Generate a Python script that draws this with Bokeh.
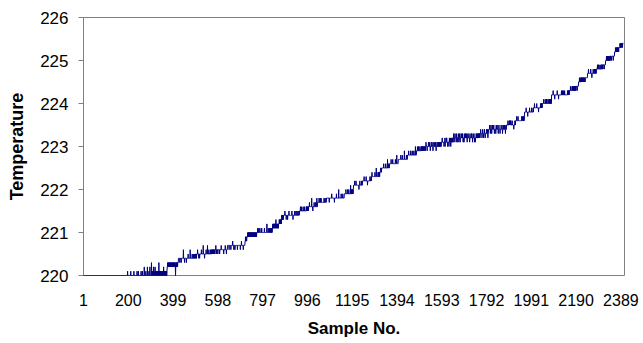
import numpy as np
from bokeh.plotting import figure
from bokeh.models import Range1d, FixedTicker, ColumnDataSource
from bokeh.embed import file_html
from bokeh.resources import INLINE

# Each segment = 40 consecutive samples. Level (tenths of a degree above 220.0)
# = segment base + digit in the pattern string.
seg_base = [0, 0, 0, 0, 0, 0, 0, 0, 0, 0,
            0, 3, 3, 4, 4, 5, 6, 6, 7, 9,
            9, 10, 12, 13, 14, 15, 16, 17, 17, 18,
            19, 21, 22, 24, 25, 26, 27, 28, 29, 29,
            30, 31, 31, 31, 32, 33, 33, 34, 35, 37,
            38, 39, 41, 41, 42, 44, 46, 47, 49, 51]

seg_pattern = [
    "0000000000 0000000000 0000000000 0000000000",
    "0000000000 0000000000 0000000000 0000000000",
    "0000000000 0000000000 0000000000 0000000000",
    "0000000000 0000000000 0000000000 0000000000",
    "0000000000 0000000000 0000000000 0000001000",
    "0000000000 1000000000 0000100000 0000000010",
    "0000100000 0000001000 0010000000 2000000100",
    "0000200000 0100020000 0030001000 0200100020",
    "0101100101 1010030101 0110101001 0101102011",
    "0110101001 0122323232 2332323322 3232232323",
    "3232332320 2323232323 3344444434 4444344444",
    "1111311110 1111111011 1111121111 1111311111",
    "1112111121 1121112122 1212222322 2212221222",
    "1111211111 1131111101 1111121111 1311111211",
    "1111211112 1212121212 2212122232 2212222122",
    "1111101111 1121111111 1110111111 2111101111",
    "1111111011 1111101111 1112111101 1110111111",
    "1111011111 1111111011 1121111111 0111111122",
    "2121212222 3232323232 2323232333 2323232333",
    "0101011010 1111211112 1111211111 1121111111",
    "1111211111 1111131111 1211111211 1212121212",
    "1212121212 2121232121 2212121222 3232323232",
    "1212121212 2222232222 2122222122 2223222222",
    "1111112111 1011111121 1111211112 1111211111",
    "1111211121 1111112111 1121111111 2121212121",
    "1111211111 1111311110 1111121111 1211111311",
    "1111111211 1121112111 1111111112 1111211111",
    "1111111111 1101111111 1112111111 1111101111",
    "1111211111 1111311111 1111121111 1121111112",
    "1111112111 1111211112 1111111311 1212121212",
    "2222232222 2322222222 2222122232 2222223222",
    "1111111211 1111112111 1101111111 1112111121",
    "1121111111 1111121111 1311111112 1212121222",
    "1111011111 1111211111 1112111111 1311112111",
    "1111111211 1111211111 1111112111 1131111112",
    "1111111111 2111111211 1111113111 1111121111",
    "1111121111 1111211111 1211111121 1111131111",
    "1111211112 1111121111 1212121212 2212122221",
    "1121111011 1112111211 1011121112 1110111211",
    "1211211011 1211121121 2121212121 2222322222",
    "1101112011 1121211101 1111012111 2101112111",
    "1101121011 1211110121 1011112101 1211011121",
    "1121121011 1011211121 1211101121 1112110111",
    "1121211110 1211121101 1011121211 1121212121",
    "1101121111 1011211101 1121101111 1211121011",
    "1111121101 1211011121 1112110111 1101211121",
    "1110112111 1011112111 1101211121 1211101211",
    "1111112111 1121211212 1111121111 1101111211",
    "1111121111 1211111111 1111111211 1211121212",
    "1111111211 1111011111 1121111111 1211111121",
    "1111211111 1111211111 1101111111 1212121212",
    "1111121111 1121111212 1111121111 2121212121",
    "1111111211 1111011111 1111121111 1011111111",
    "1111211112 1121111121 1111111111 1212121212",
    "1111211111 1211211212 1212121212 2222122222",
    "1111211211 1212121212 2122212221 2222222222",
    "1111211111 1111211110 1111121111 1211121212",
    "1111211212 1111121111 2121212212 2222122222",
    "1111211212 1212121212 2122221222 2222122222",
    "1111211212 1212121212 2222322323 2333323333",
]

x_ticks = [1, 200, 399, 598, 797, 996, 1195, 1394, 1593, 1792, 1991, 2190, 2389]
y_ticks = [220, 221, 222, 223, 224, 225, 226]

tenths = []
for b, pat in zip(seg_base, seg_pattern):
    for ch in pat.replace(" ", ""):
        tenths.append(b + int(ch))
temperature = 220.0 + np.array(tenths) / 10.0
sample = np.arange(1, len(temperature) + 1)

src = ColumnDataSource(dict(x=sample, y=temperature))

FONT = "Liberation Sans"

p = figure(width=643, height=343, output_backend="svg", toolbar_location=None,
           x_range=Range1d(1, 2405), y_range=Range1d(220, 226),
           min_border_left=83, min_border_right=19, min_border_top=17,
           min_border_bottom=68, background_fill_color="white",
           border_fill_color="white")
p.outline_line_color = "#808080"
p.outline_line_width = 1
p.grid.visible = False

p.line("x", "y", source=src, line_color="#000080", line_width=1, level="overlay")

p.xaxis.ticker = FixedTicker(ticks=x_ticks)
p.yaxis.ticker = FixedTicker(ticks=y_ticks)
p.xaxis.minor_tick_line_color = None
p.yaxis.minor_tick_line_color = None

for ax in (p.xaxis[0], p.yaxis[0]):
    ax.axis_line_color = "#808080"
    ax.major_tick_line_color = "#808080"
    ax.major_label_text_font = FONT
    ax.major_label_text_color = "black"
    ax.axis_label_text_font = FONT
    ax.axis_label_text_font_style = "bold"
    ax.axis_label_text_color = "black"

p.xaxis.axis_line_color = None
p.xaxis.major_tick_in = 0
p.xaxis.major_tick_out = 0
p.xaxis.major_label_standoff = 18
p.xaxis.major_label_text_font_size = "16px"
p.xaxis.axis_label = "Sample No."
p.xaxis.axis_label_text_font_size = "17px"
p.xaxis.axis_label_standoff = 10

p.yaxis.major_tick_in = 0
p.yaxis.major_tick_out = 5
p.yaxis.major_label_standoff = 10
p.yaxis.major_label_text_font_size = "17px"
p.yaxis.axis_label = "Temperature"
p.yaxis.axis_label_text_font_size = "18px"
p.yaxis.axis_label_standoff = 10

open("out.html", "w").write(file_html(p, INLINE))
